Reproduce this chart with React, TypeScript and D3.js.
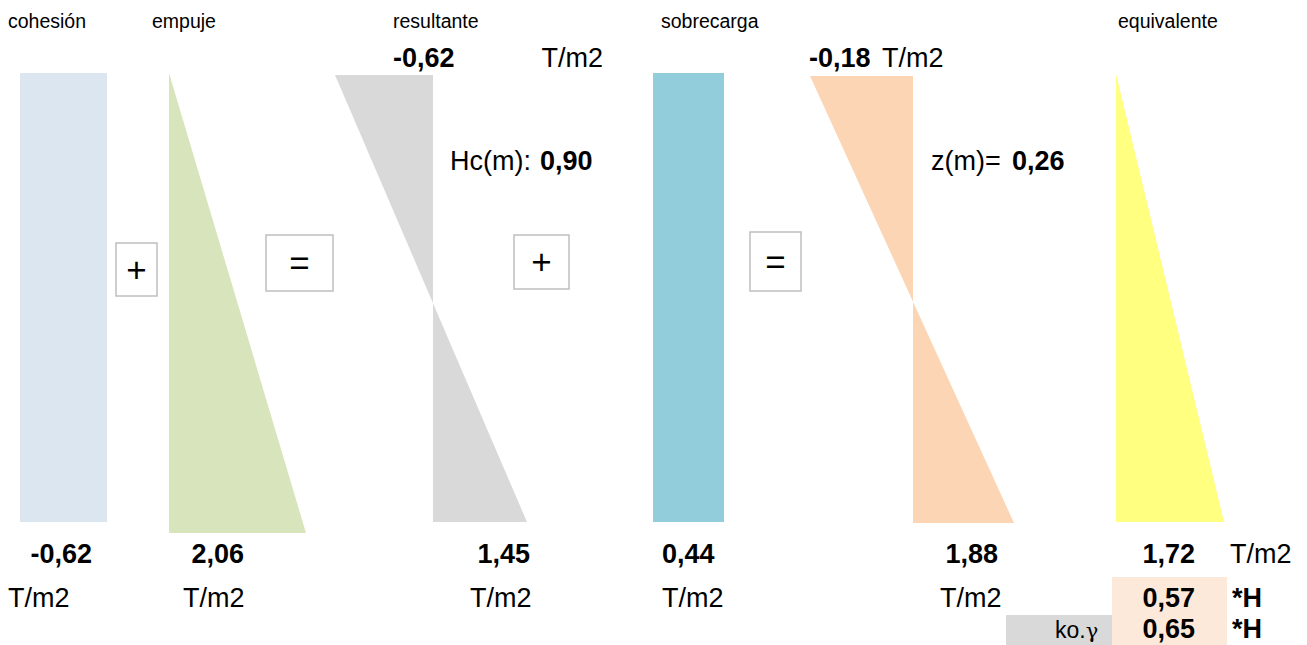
import React from "react";
import * as d3 from "d3";

// ---------- data ----------
const panelTitles = ["cohesión", "empuje", "resultante", "sobrecarga", "equivalente"];
// six drawn diagrams: cohesión, empuje, resultante, sobrecarga, resultante+sobrecarga, equivalente
const pressureTop = [-0.62, 0.0, -0.62, 0.44, -0.18, 0.0];
const pressureBottom = [-0.62, 2.06, 1.45, 0.44, 1.88, 1.72];
const bottomLabels = ["-0,62", "2,06", "1,45", "0,44", "1,88", "1,72"];
const topLabels = ["-0,62", "-0,18"];
const depthLabels = [
  { name: "Hc(m):", value: "0,90" },
  { name: "z(m)=", value: "0,26" },
];
const coefLabels = ["0,57", "0,65"];
const operators = ["+", "=", "+", "="];
const unit = "T/m2";

// ---------- layout / style ----------
const W = 1307;
const H = 645;
const FONT = "'Liberation Sans', Arial, sans-serif";
const colors = ["#dce6f1", "#d8e4bc", "#d9d9d9", "#92cddc", "#fcd5b4", "#ffff80"];
// horizontal extent for [min value, 0, max value] of each diagram
const xRanges = [
  [20, 107],
  [169, 306],
  [335, 433, 527],
  [653, 724],
  [810, 913, 1014],
  [1116, 1224],
];
const yRanges = [
  [73, 522],
  [73, 533],
  [75, 522],
  [73, 522],
  [76, 523],
  [74, 522],
];
const titleX = [8, 152, 393, 661, 1118];
const bottomLabelAnchor: [number, "start" | "end"][] = [
  [92, "end"],
  [244, "end"],
  [530, "end"],
  [662, "start"],
  [998, "end"],
  [1195, "end"],
];
const unitRowX = [8, 183, 470, 662, 940];
const opBoxes = [
  [116, 243, 157, 296],
  [266, 235, 333, 291],
  [514, 235, 569, 289],
  [750, 232, 801, 291],
];

function diagramPath(i: number) {
  const vt = pressureTop[i];
  const vb = pressureBottom[i];
  const lo = Math.min(vt, vb, 0);
  const hi = Math.max(vt, vb, 0);
  const r = xRanges[i];
  const domain = r.length === 3 ? [lo, 0, hi] : lo < 0 ? [lo, 0] : [0, hi];
  const x = d3.scaleLinear().domain(domain).range(r);
  const y = d3.scaleLinear().domain([0, 1]).range(yRanges[i]);
  const pts: [number, number][] = [
    [x(vt), y(0)],
    [x(0), y(0)],
    [x(0), y(1)],
    [x(vb), y(1)],
  ];
  return d3.line()(pts) + "Z";
}

export default function App() {
  const big = 27;
  const small = 19.5;
  return (
    <svg
      width={W}
      height={H}
      style={{ position: "absolute", left: 0, top: 0, background: "#fff" }}
      fontFamily={FONT}
    >
      {/* coefficient cells */}
      <rect x={1112} y={577} width={115} height={68} fill="#fde9d9" />
      <rect x={1006} y={615} width={106} height={30} fill="#d9d9d9" />

      {pressureTop.map((_, i) => (
        <path key={i} d={diagramPath(i)} fill={colors[i]} stroke="none" />
      ))}

      {panelTitles.map((t, i) => (
        <text key={t} x={titleX[i]} y={28} fontSize={small} fill="#000">
          {t}
        </text>
      ))}

      {/* top values */}
      <text x={393} y={67} fontSize={big} fontWeight="bold">{topLabels[0]}</text>
      <text x={603} y={67} fontSize={big} textAnchor="end">{unit}</text>
      <text x={809} y={67} fontSize={big} fontWeight="bold">{topLabels[1]}</text>
      <text x={882} y={67} fontSize={big}>{unit}</text>

      {/* depths */}
      <text x={450} y={170} fontSize={big}>{depthLabels[0].name}</text>
      <text x={540} y={170} fontSize={big} fontWeight="bold">{depthLabels[0].value}</text>
      <text x={931} y={170} fontSize={big}>{depthLabels[1].name}</text>
      <text x={1012} y={170} fontSize={big} fontWeight="bold">{depthLabels[1].value}</text>

      {/* operator boxes */}
      {opBoxes.map(([x1, y1, x2, y2], i) => (
        <g key={i}>
          <rect x={x1} y={y1} width={x2 - x1} height={y2 - y1} fill="#fff" stroke="#bfbfbf" strokeWidth={1.5} />
          <text x={(x1 + x2) / 2} y={(y1 + y2) / 2 + 12} fontSize={35} textAnchor="middle">
            {operators[i]}
          </text>
        </g>
      ))}

      {/* bottom values */}
      {bottomLabels.map((t, i) => (
        <text key={i} x={bottomLabelAnchor[i][0]} y={563} fontSize={big} fontWeight="bold" textAnchor={bottomLabelAnchor[i][1]}>
          {t}
        </text>
      ))}
      <text x={1230} y={563} fontSize={big}>{unit}</text>

      {unitRowX.map((x, i) => (
        <text key={i} x={x} y={607} fontSize={big}>{unit}</text>
      ))}

      <text x={1195} y={607} fontSize={big} fontWeight="bold" textAnchor="end">{coefLabels[0]}</text>
      <text x={1232} y={607} fontSize={big} fontWeight="bold">*H</text>
      <text x={1055} y={638} fontSize={23}>
        ko.<tspan fontFamily="'DejaVu Serif', 'Liberation Serif', serif" fontSize={21}>γ</tspan>
      </text>
      <text x={1195} y={638} fontSize={big} fontWeight="bold" textAnchor="end">{coefLabels[1]}</text>
      <text x={1232} y={638} fontSize={big} fontWeight="bold">*H</text>
    </svg>
  );
}
